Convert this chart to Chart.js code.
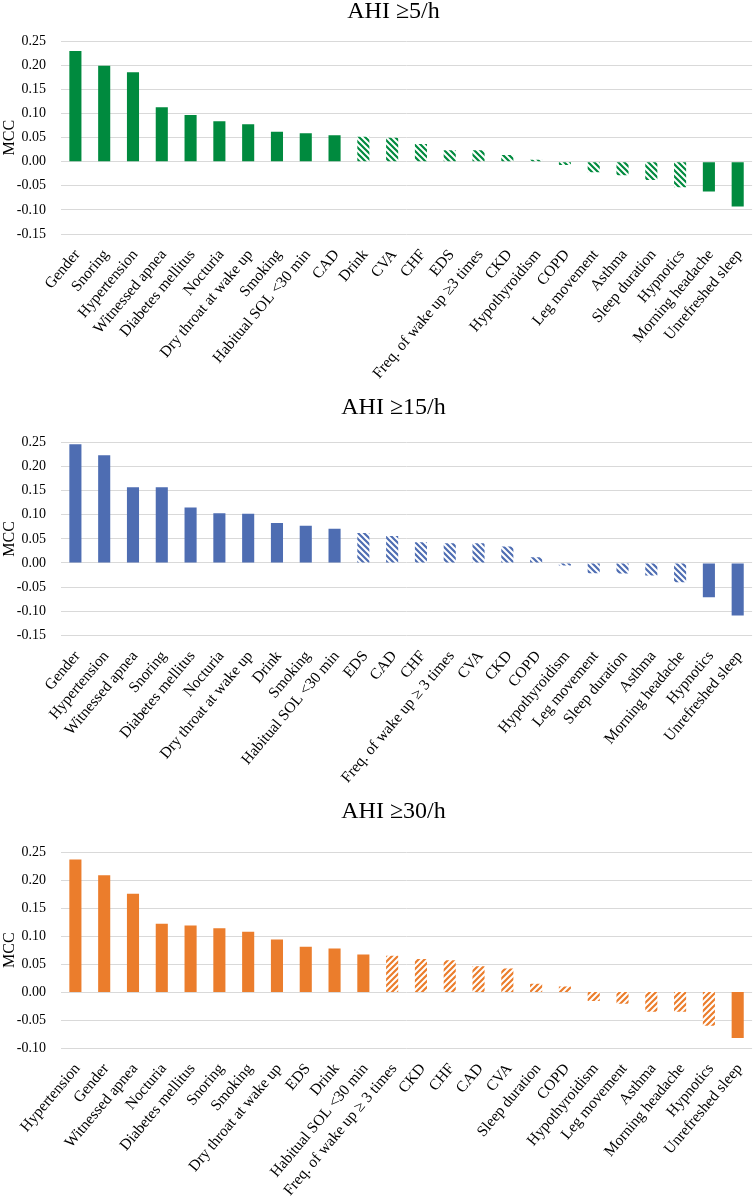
<!DOCTYPE html>
<html><head><meta charset="utf-8">
<script src="https://cdn.jsdelivr.net/npm/chart.js@4.4.0/dist/chart.umd.min.js"></script>
<style>
html,body{margin:0;padding:0;background:#fff;}
#wrap{position:relative;width:756px;height:1199px;overflow:hidden;background:#fff;}
canvas{position:absolute;left:0;}
</style></head><body>
<div id="wrap">
<canvas id="c1" width="756" height="385" style="top:0px;width:756px;height:385px"></canvas>
<canvas id="c2" width="756" height="405" style="top:385px;width:756px;height:405px"></canvas>
<canvas id="c3" width="756" height="409" style="top:790px;width:756px;height:409px"></canvas>
</div>
<script>
// ---------- DATA ----------
const title5 = "AHI \u22655/h";
const categories5 = ["Gender","Snoring","Hypertension","Witnessed apnea","Diabetes mellitus","Nocturia","Dry throat at wake up","Smoking","Habitual SOL <30 min","CAD","Drink","CVA","CHF","EDS","Freq. of wake up \u22653 times","CKD","Hypothyroidism","COPD","Leg movement","Asthma","Sleep duration","Hypnotics","Morning headache","Unrefreshed sleep"];
const mcc5 = [0.230,0.199,0.186,0.113,0.097,0.084,0.078,0.062,0.059,0.055,0.052,0.050,0.037,0.024,0.024,0.014,0.004,-0.007,-0.022,-0.028,-0.038,-0.053,-0.062,-0.093];
const significant5 = [1,1,1,1,1,1,1,1,1,1,0,0,0,0,0,0,0,0,0,0,0,0,1,1];

const title15 = "AHI \u226515/h";
const categories15 = ["Gender","Hypertension","Witnessed apnea","Snoring","Diabetes mellitus","Nocturia","Dry throat at wake up","Drink","Smoking","Habitual SOL <30 min","EDS","CAD","CHF","Freq. of wake up \u2265 3 times","CVA","CKD","COPD","Hypothyroidism","Leg movement","Sleep duration","Asthma","Morning headache","Hypnotics","Unrefreshed sleep"];
const mcc15 = [0.246,0.223,0.157,0.157,0.115,0.103,0.102,0.083,0.077,0.071,0.062,0.056,0.043,0.041,0.041,0.034,0.012,-0.005,-0.021,-0.022,-0.026,-0.040,-0.071,-0.109];
const significant15 = [1,1,1,1,1,1,1,1,1,1,0,0,0,0,0,0,0,0,0,0,0,0,1,1];

const title30 = "AHI \u226530/h";
const categories30 = ["Hypertension","Gender","Witnessed apnea","Nocturia","Diabetes mellitus","Snoring","Smoking","Dry throat at wake up","EDS","Drink","Habitual SOL <30 min","Freq. of wake up \u2265 3 times","CKD","CHF","CAD","CVA","Sleep duration","COPD","Hypothyroidism","Leg movement","Asthma","Morning headache","Hypnotics","Unrefreshed sleep"];
const mcc30 = [0.237,0.209,0.176,0.122,0.119,0.114,0.108,0.094,0.081,0.078,0.067,0.065,0.059,0.057,0.046,0.042,0.015,0.010,-0.016,-0.021,-0.035,-0.035,-0.060,-0.082];
const significant30 = [1,1,1,1,1,1,1,1,1,1,1,0,0,0,0,0,0,0,0,0,0,0,0,1];

// ---------- HELPERS ----------
const FONT = "'Liberation Serif','Times New Roman',serif";

function hatch(color, dir){
  const s = 6;
  const c = document.createElement('canvas');
  c.width = s; c.height = s;
  const x = c.getContext('2d');
  x.fillStyle = '#ffffff'; x.fillRect(0,0,s,s);
  x.strokeStyle = color; x.lineWidth = 2.2;
  x.beginPath();
  if (dir === 'back') {
    for (let k=-1;k<=1;k++){ x.moveTo(-1, -1 + k*s); x.lineTo(s+1, s+1 + k*s); }
  } else {
    for (let k=0;k<=2;k++){ x.moveTo(-1, k*s + 1); x.lineTo(s+1, k*s - s - 1); }
  }
  x.stroke();
  return x.createPattern(c, 'repeat');
}

const shiftTitle = {
  id: 'shiftTitle',
  afterLayout(chart, args, opts){
    const t = chart.titleBlock;
    if (t && opts && opts.dx){ t.left += opts.dx; t.right += opts.dx; }
  }
};

function fmt(v){ const r = Math.round(v*100)/100; return (Math.abs(r) < 1e-9 ? 0 : r).toFixed(2); }

function makeChart(id, title, cats, vals, sig, color, dir, yMin, titlePad, xHeight){
  const pat = hatch(color, dir);
  const bg = sig.map(s => s ? color : pat);
  return new Chart(document.getElementById(id), {
    type: 'bar',
    data: { labels: cats, datasets: [{ data: vals, backgroundColor: bg, borderWidth: 0, barPercentage: 0.42, categoryPercentage: 1.0 }] },
    plugins: [shiftTitle],
    options: {
      responsive: false, animation: false, devicePixelRatio: 1,
      layout: { padding: { top: 0, left: 0, right: 3, bottom: 0 } },
      plugins: {
        legend: { display: false },
        tooltip: { enabled: false },
        shiftTitle: { dx: 17 },
        title: { display: true, text: title, color: '#000', font: { family: FONT, size: 24, weight: 'normal', lineHeight: 1 }, padding: titlePad }
      },
      scales: {
        x: {
          grid: { display: false }, border: { display: false },
          ticks: { autoSkip: false, minRotation: 50, maxRotation: 50, labelOffset: 2, color: '#000', padding: 4, font: { family: FONT, size: 15.5 } },
          afterFit(s){ s.height = xHeight; }
        },
        y: {
          min: yMin, max: 0.25,
          grid: { color: '#d9d9d9', lineWidth: 1, drawTicks: false }, border: { display: false },
          ticks: { stepSize: 0.05, padding: 15, color: '#000', font: { family: FONT, size: 14 }, callback: fmt },
          title: { display: true, text: 'MCC', color: '#000', font: { family: FONT, size: 16, weight: 'normal' }, padding: 0 },
          afterFit(s){ s.width = 61; }
        }
      }
    }
  });
}

makeChart('c1', title5, categories5, mcc5, significant5, '#008A3E', 'back', -0.15, {top:0, bottom:17.3}, 151);
makeChart('c2', title15, categories15, mcc15, significant15, '#4E6DB2', 'back', -0.15, {top:11, bottom:22.3}, 154.6);
makeChart('c3', title30, categories30, mcc30, significant30, '#EB7D2C', 'fwd', -0.10, {top:10, bottom:28.3}, 151);
</script>
</body></html>
